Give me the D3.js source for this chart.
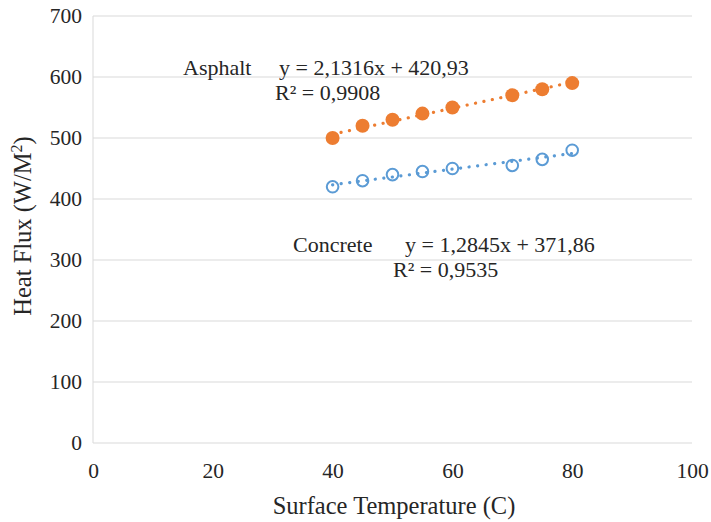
<!DOCTYPE html>
<html>
<head>
<meta charset="utf-8">
<script src="https://cdn.jsdelivr.net/npm/d3@7"></script>
<style>
  html, body { margin: 0; padding: 0; background: #fff; }
  svg, svg text { font-family: "Liberation Serif", "Times New Roman", Times, serif; }
</style>
</head>
<body>
<svg id="chart" width="711" height="522"></svg>
<script>
// Surface temperature (C) of each measurement
const temps = [40, 45, 50, 55, 60, 70, 75, 80];
// Heat flux (W/M²) per surface
const asphaltFlux = [500, 520, 530, 540, 550, 570, 580, 590];
const concreteFlux = [420, 430, 440, 445, 450, 455, 465, 480];
// Linear trend fits: slope, intercept, R²
const asphaltFit = [2.1316, 420.93, 0.9908];
const concreteFit = [1.2845, 371.86, 0.9535];
const xTicks = [0, 20, 40, 60, 80, 100];
const yTicks = [0, 100, 200, 300, 400, 500, 600, 700];

const svg = d3.select("#chart");
const plotLeft = 93, plotRight = 692, plotTop = 16, plotBottom = 443;
const serif = "'Liberation Serif', 'Times New Roman', Times, serif";
const ink = "#262626";

const x = d3.scaleLinear().domain([0, 100]).range([plotLeft, plotRight]);
const y = d3.scaleLinear().domain([0, 700]).range([plotBottom, plotTop]);

// horizontal gridlines
svg.append("g")
  .selectAll("line").data(yTicks).join("line")
  .attr("x1", plotLeft).attr("x2", plotRight)
  .attr("y1", d => y(d)).attr("y2", d => y(d))
  .attr("stroke", "#d9d9d9").attr("stroke-width", 1);

// vertical axis line
svg.append("line")
  .attr("x1", plotLeft).attr("x2", plotLeft).attr("y1", y(700)).attr("y2", y(0))
  .attr("stroke", "#d9d9d9").attr("stroke-width", 1);

// y tick labels
const yAxis = d3.axisLeft(y).tickValues(yTicks).tickSize(0).tickPadding(11);
const gy = svg.append("g").attr("transform", `translate(${plotLeft},0)`).call(yAxis)
  .attr("font-family", serif).attr("font-size", 21.5);
gy.select(".domain").remove();
gy.selectAll("text").attr("fill", ink);

// x tick labels
const xAxis = d3.axisBottom(x).tickValues(xTicks).tickSize(0).tickPadding(20);
const gx = svg.append("g").attr("transform", `translate(0,${plotBottom})`).call(xAxis)
  .attr("font-family", serif).attr("font-size", 21.5);
gx.select(".domain").remove();
gx.selectAll("text").attr("fill", ink);

// axis titles
svg.append("text")
  .attr("x", 394).attr("y", 514)
  .attr("text-anchor", "middle").attr("font-size", 24.5).attr("fill", ink)
  .attr("font-family", serif)
  .text("Surface Temperature (C)");

const yt = svg.append("text")
  .attr("transform", `translate(31,226) rotate(-90)`)
  .attr("text-anchor", "middle").attr("font-size", 24.5).attr("fill", ink)
  .attr("font-family", serif);
yt.append("tspan").text("Heat Flux (W/M");
yt.append("tspan").attr("font-size", 16).attr("dy", -9).text("2");
yt.append("tspan").attr("dy", 9).text(")");

// trend lines (dotted)
function trend(fit, color) {
  const [m, b] = fit;
  const x0 = d3.min(temps), x1 = d3.max(temps);
  svg.append("line")
    .attr("x1", x(x0)).attr("y1", y(m * x0 + b))
    .attr("x2", x(x1)).attr("y2", y(m * x1 + b))
    .attr("stroke", color).attr("stroke-width", 3.2)
    .attr("stroke-linecap", "round")
    .attr("stroke-dasharray", "0.1 8.5");
}
trend(asphaltFit, "#ED7D31");
trend(concreteFit, "#5B9BD5");

// asphalt markers (filled)
svg.append("g").selectAll("circle").data(temps).join("circle")
  .attr("cx", d => x(d)).attr("cy", (d, i) => y(asphaltFlux[i]))
  .attr("r", 7).attr("fill", "#ED7D31");

// concrete markers (hollow)
svg.append("g").selectAll("circle").data(temps).join("circle")
  .attr("cx", d => x(d)).attr("cy", (d, i) => y(concreteFlux[i]))
  .attr("r", 5.8).attr("fill", "none")
  .attr("stroke", "#5B9BD5").attr("stroke-width", 2);

// labels and fit equations
const fmt = v => String(v).replace(".", ",");
function label(txt, px, py) {
  svg.append("text").attr("x", px).attr("y", py)
    .attr("font-family", serif)
    .attr("font-size", 22).attr("fill", ink).text(txt);
}
label("Asphalt", 183, 75);
label(`y = ${fmt(asphaltFit[0])}x + ${fmt(asphaltFit[1])}`, 279, 75);
label(`R² = ${fmt(asphaltFit[2])}`, 275, 100);
label("Concrete", 293, 252);
label(`y = ${fmt(concreteFit[0])}x + ${fmt(concreteFit[1])}`, 405, 252);
label(`R² = ${fmt(concreteFit[2])}`, 393, 277);
</script>
</body>
</html>
